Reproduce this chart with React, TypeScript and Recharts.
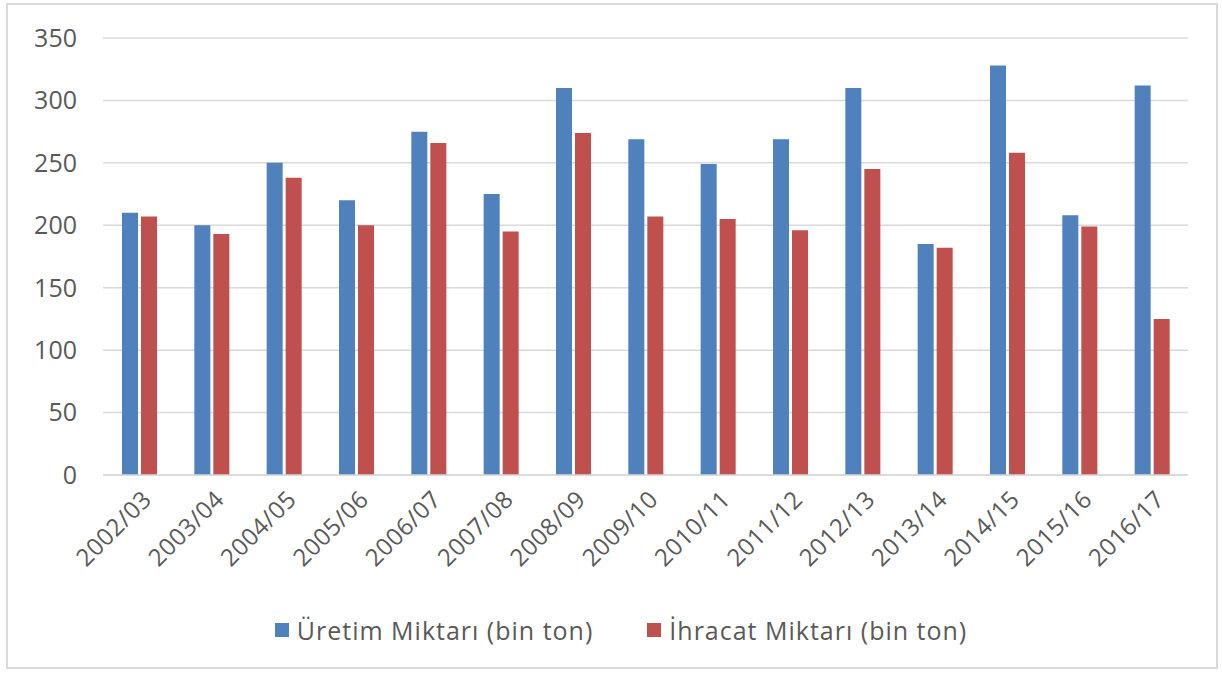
import { BarChart, Bar, XAxis, YAxis, CartesianGrid, Legend } from 'recharts'

const seasons = [
  '2002/03', '2003/04', '2004/05', '2005/06', '2006/07', '2007/08', '2008/09', '2009/10',
  '2010/11', '2011/12', '2012/13', '2013/14', '2014/15', '2015/16', '2016/17',
]
const uretim = [210, 200, 250, 220, 275, 225, 310, 269, 249, 269, 310, 185, 328, 208, 312]
const ihracat = [207, 193, 238, 200, 266, 195, 274, 207, 205, 196, 245, 182, 258, 199, 125]
const yTicks = [0, 50, 100, 150, 200, 250, 300, 350]

const URETIM = 'Üretim Miktarı (bin ton)'
const IHRACAT = 'İhracat Miktarı (bin ton)'

const data = seasons.map((s, i) => ({ season: s, uretim: uretim[i], ihracat: ihracat[i] }))

const FONT = '"Open Sans", sans-serif'
const TEXT = '#595959'

const SeasonTick = ({ x, y, payload }: { x?: number; y?: number; payload?: { value: string } }) => (
  <g transform={`translate(${(x ?? 0) + 8},${(y ?? 0) + 20}) rotate(-45)`}>
    <text textAnchor="end" dy="0.35em" fill={TEXT} fontSize={24} letterSpacing={0.5} fontFamily={FONT}>
      {payload?.value}
    </text>
  </g>
)

const LegendBox = () => (
  <div
    style={{
      height: 30,
      paddingLeft: 46,
      display: 'flex',
      justifyContent: 'center',
      alignItems: 'center',
      gap: 54,
      fontFamily: FONT,
      fontSize: 25,
      letterSpacing: 1,
      color: TEXT,
    }}
  >
    <div style={{ display: 'flex', alignItems: 'center', gap: 8 }}>
      <span style={{ width: 14, height: 14, background: '#4F81BD', display: 'inline-block' }} />
      <span>{URETIM}</span>
    </div>
    <div style={{ display: 'flex', alignItems: 'center', gap: 8 }}>
      <span style={{ width: 14, height: 14, background: '#C0504D', display: 'inline-block' }} />
      <span>{IHRACAT}</span>
    </div>
  </div>
)

export default function App() {
  return (
    <div
      style={{
        position: 'absolute',
        left: 6,
        top: 3,
        width: 1208,
        height: 662,
        border: '2px solid #d9d9d9',
        background: '#fff',
      }}
    >
      <BarChart
        width={1208}
        height={662}
        data={data}
        margin={{ top: 33, right: 28, left: 0, bottom: 22 }}
        barSize={16}
        barGap={3}
      >
        <CartesianGrid vertical={false} stroke="#d9d9d9" strokeWidth={1.5} />
        <XAxis
          dataKey="season"
          height={140}
          interval={0}
          axisLine={{ stroke: '#d9d9d9', strokeWidth: 1.5 }}
          tickLine={false}
          tickSize={0}
          tickMargin={0}
          tick={<SeasonTick />}
        />
        <YAxis
          width={95}
          domain={[0, 350]}
          ticks={yTicks}
          axisLine={false}
          tickLine={false}
          tickSize={0}
          tickMargin={26}
          tick={{ fill: TEXT, fontSize: 25, fontFamily: FONT }}
        />
        <Legend verticalAlign="bottom" content={<LegendBox />} />
        <Bar dataKey="uretim" name={URETIM} fill="#4F81BD" isAnimationActive={false} />
        <Bar dataKey="ihracat" name={IHRACAT} fill="#C0504D" isAnimationActive={false} />
      </BarChart>
    </div>
  )
}
